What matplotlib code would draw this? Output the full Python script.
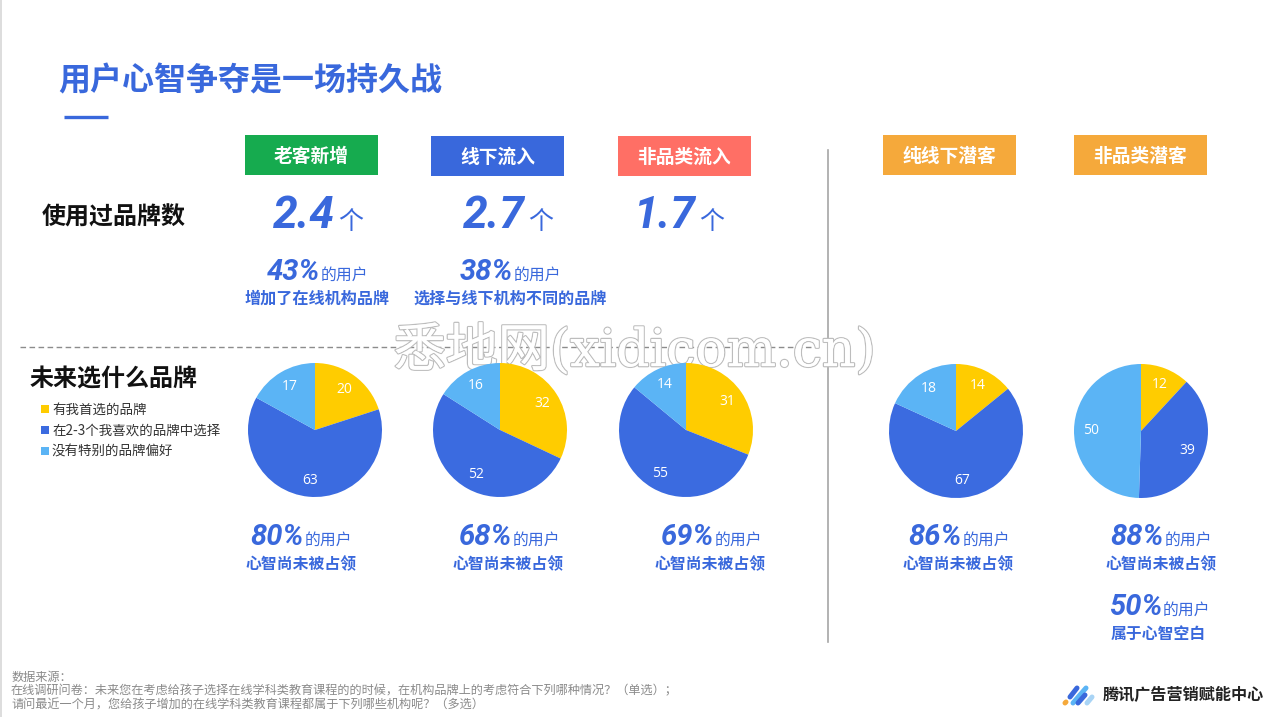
import matplotlib
matplotlib.use("Agg")
import matplotlib.pyplot as plt
import matplotlib.patheffects as pe
from matplotlib.patches import Rectangle

plt.rcParams['font.family'] = ['Noto Sans CJK SC', 'DejaVu Sans']

BLUE = '#3968DC'
title = '用户心智争夺是一场持久战'
segments = ['老客新增', '线下流入', '非品类流入', '纯线下潜客', '非品类潜客']
segment_colors = ['#16AB4F', '#3968DC', '#FF6F65', '#F5A93B', '#F5A93B']
brand_counts = ['2.4', '2.7', '1.7']
top_pcts = ['43%', '38%']
top_notes = ['增加了在线机构品牌', '选择与线下机构不同的品牌']
legend_labels = ['有我首选的品牌', '在2-3个我喜欢的品牌中选择', '没有特别的品牌偏好']
pie_colors = ['#FFCC00', '#3B6BE0', '#5BB4F5']
first_choice = [20, 32, 31, 14, 12]
few_choice = [63, 52, 55, 67, 39]
no_pref = [17, 16, 14, 18, 50]
unclaimed = ['80%', '68%', '69%', '86%', '88%']

W, H = 1280, 717
fig = plt.figure(figsize=(W / 100, H / 100), dpi=100, facecolor='white')
ax = fig.add_axes([0, 0, 1, 1])
ax.set_xlim(0, W)
ax.set_ylim(H, 0)
ax.axis('off')


def t(x, y, s, size, color='#111111', ha='center', weight='normal', **kw):
    return ax.text(x, y, s, fontsize=size, color=color, ha=ha, va='center',
                   fontweight=weight, **kw)


def mixed(xn, y, pct, size=21):
    """big italic percentage followed by 的用户"""
    t(xn, y, pct, size, BLUE, ha='right', weight='bold', style='italic',
      family=['Roboto', 'DejaVu Sans'])
    t(xn + 1, y + 3, '的用户', 11.4, BLUE, ha='left', weight='medium')


ax.add_patch(Rectangle((0, 0), 2, H, color='#DDDDDD', lw=0))
t(58, 81, title, 23, BLUE, ha='left', weight='bold')
ax.plot([64, 108], [117, 117], color=BLUE, lw=2.4, solid_capstyle='butt')

# headers
box_x = [245, 431, 618, 883, 1074]
box_y = [135, 136, 136, 135, 135]
for x, y, s, c in zip(box_x, box_y, segments, segment_colors):
    ax.add_patch(Rectangle((x, y), 133, 40, color=c, lw=0))
    t(x + 66.5, y + 21, s, 13.5, 'white', weight='bold')

# dividers
ax.plot([827.5, 827.5], [150, 642], color='#A6A6A6', lw=1.2)
ax.plot([20, 812], [347, 347], color='#8C8C8C', lw=1, ls=(0, (4, 2.5)))

# row labels
t(42, 218, '使用过品牌数', 17.3, '#111111', ha='left', weight='bold')
t(30, 379, '未来选什么品牌', 17.3, '#111111', ha='left', weight='bold')

# brand counts
count_x = [335, 525, 696]
for x, s in zip(count_x, brand_counts):
    t(x, 216, s, 32, BLUE, ha='right', weight='bold', style='italic',
      family=['Roboto', 'DejaVu Sans'])
    t(x + 16, 222, '个', 18, BLUE)

# top notes
mixed(320, 272, top_pcts[0])
t(317.5, 299, top_notes[0], 11.6, BLUE, weight='bold')
mixed(513, 272, top_pcts[1])
t(510.5, 299, top_notes[1], 11.6, BLUE, weight='bold')

# legend
for y, s, c in zip([409, 430, 451], legend_labels, pie_colors):
    ax.add_patch(Rectangle((41, y - 4), 8, 8, color=c, lw=0))
    t(52, y + 1, s, 9.7, '#333333', ha='left')

# pies
centers = [(315, 430), (500, 430), (686, 430), (956, 431), (1141, 431)]
R = 67
for i, (cx, cy) in enumerate(centers):
    vals = [first_choice[i], few_choice[i], no_pref[i]]
    size = 2 * R
    pax = fig.add_axes([(cx - R) / W, 1 - (cy + R) / H, size / W, size / H])
    _, _, auto = pax.pie(vals, colors=pie_colors, startangle=90, counterclock=False,
                         radius=1.0, autopct=lambda p, it=iter(vals): str(next(it)),
                         pctdistance=0.75,
                         textprops=dict(color='white', fontsize=10),
                         wedgeprops=dict(linewidth=0))
    pax.set_xlim(-1, 1)
    pax.set_ylim(-1, 1)
    for a in auto:
        a.set_family(['Open Sans', 'DejaVu Sans'])

# bottom notes
mixed_x = [304, 512, 714, 962, 1164]
note_x = [301.5, 508.5, 710, 958.5, 1161.5]
for mx, nx, pct in zip(mixed_x, note_x, unclaimed):
    mixed(mx, 537, pct)
    t(nx, 564, '心智尚未被占领', 11.4, BLUE, weight='bold')
mixed(1162, 607, '50%')
t(1158, 634, '属于心智空白', 11.4, BLUE, weight='bold')

# footnote
foot = ['数据来源：',
        '在线调研问卷：未来您在考虑给孩子选择在线学科类教育课程的的时候，在机构品牌上的考虑符合下列哪种情况？（单选）；',
        '请问最近一个月，您给孩子增加的在线学科类教育课程都属于下列哪些机构呢？（多选）']
for y, s in zip([677, 691, 705], foot):
    t(11, y, s, 8.75, '#8A8A8A', ha='left')

# logo
for x0, y0, x1, y1, c, lw in [
    (1065, 703, 1066, 702, '#F5A93B', 3.6),
    (1070, 697, 1077, 688, '#3968DC', 3.6),
    (1073, 703, 1086, 688, '#5BB4F5', 3.6),
    (1078, 703, 1085, 695, '#3968DC', 3.6),
    (1087, 703, 1092, 697, '#A9D4F5', 3.6),
]:
    ax.plot([x0, x1], [y0, y1], color=c, lw=lw, solid_capstyle='round')
t(1103, 695, '腾讯广告营销赋能中心', 11.6, '#222222', ha='left', weight='bold')

# watermark
wm = t(635, 351, '悉地网(xidicom.cn)', 37.5, 'white', zorder=20,
       family=['DejaVu Serif', 'Noto Sans CJK SC'])
wm.set_path_effects([pe.withStroke(linewidth=1.8, foreground='#BDBDBD'),
                     pe.Normal()])

fig.savefig('out.png', dpi=100, facecolor='white')
